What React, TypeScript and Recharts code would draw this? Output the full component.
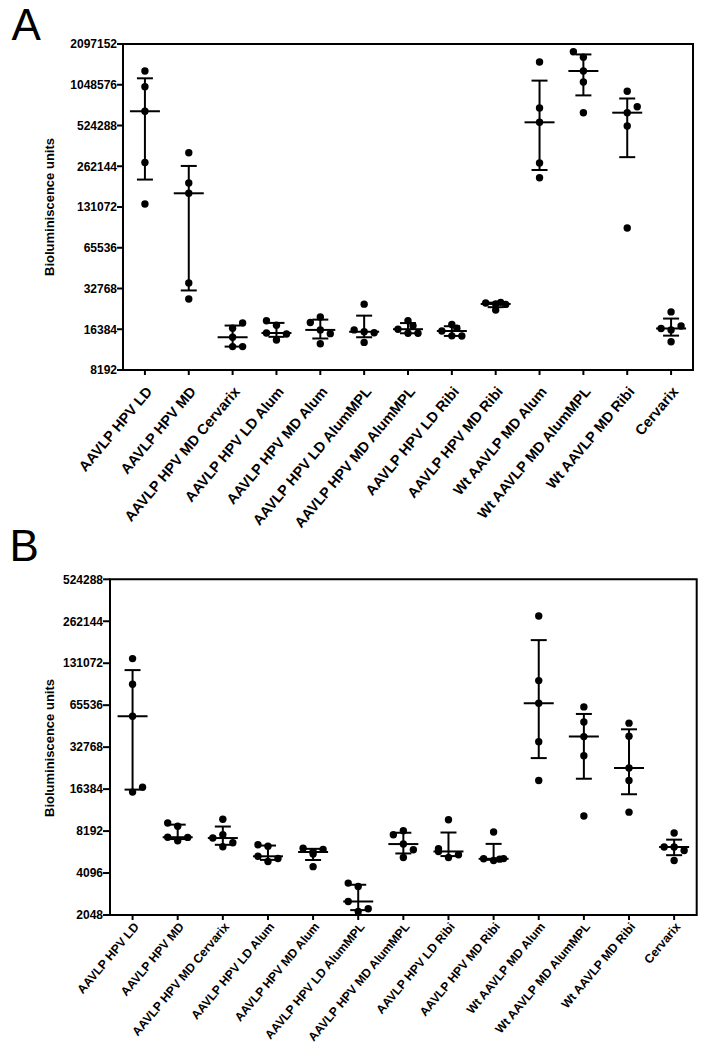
import React from 'react';
import { ScatterChart, Scatter, XAxis, YAxis, ErrorBar, ReferenceArea } from 'recharts';

const categories = [
  'AAVLP HPV LD',
  'AAVLP HPV MD',
  'AAVLP HPV MD Cervarix',
  'AAVLP HPV LD Alum',
  'AAVLP HPV MD Alum',
  'AAVLP HPV LD AlumMPL',
  'AAVLP HPV MD AlumMPL',
  'AAVLP HPV LD Ribi',
  'AAVLP HPV MD Ribi',
  'Wt AAVLP MD Alum',
  'Wt AAVLP MD AlumMPL',
  'Wt AAVLP MD Ribi',
  'Cervarix',
];

// ---------- Panel A ----------
const ticksA = [8192, 16384, 32768, 65536, 131072, 262144, 524288, 1048576, 2097152];
const valuesA = [
  [1325000, 1014000, 668000, 280000, 138000],
  [330000, 197000, 165500, 36000, 27400],
  [18200, 16700, 14300, 12200, 12200],
  [18950, 17550, 15370, 15100, 13650],
  [20200, 18400, 16200, 15200, 12800],
  [25100, 16200, 15700, 15450, 13100],
  [18950, 17400, 16400, 15300, 15300],
  [17800, 16700, 15900, 14650, 14600],
  [25900, 25600, 25200, 25000, 22700],
  [1544000, 706000, 553500, 277000, 215700],
  [1840000, 1673000, 1325000, 1098000, 652000],
  [938000, 722000, 652000, 520000, 91700],
  [22000, 17300, 16600, 16200, 13250],
];
const slotsA = [
  [0, 0, 0, 0, 0],
  [0, 0, 0, 0, 0],
  [1, 0, 0, 0, 1],
  [-1, 0, -1, 1, 0],
  [0, -1, 0, 1, 0],
  [0, -1, 0, 1, 0],
  [0, 0.5, -1, 0, 1],
  [0, 0.5, -1, 0, 1],
  [0.5, -1, 0, 1, 0],
  [0, 0, 0, 0, 0],
  [-1, 0, 0, 0, 0],
  [0, 1, 0, 0, 0],
  [0, 1, -1, 0, 0],
];
const medianA = [668000, 165500, 14300, 15370, 16200, 15700, 16400, 15900, 25200, 553500, 1325000, 652000, 16600];
const q1A = [209000, 31700, 12200, 14400, 14000, 14300, 15300, 14625, 23850, 246000, 875000, 306000, 14700];
const q3A = [1170000, 263500, 17450, 18250, 19300, 20650, 18200, 17250, 25750, 1125000, 1756000, 830000, 19650];

// ---------- Panel B ----------
const ticksB = [2048, 4096, 8192, 16384, 32768, 65536, 131072, 262144, 524288];
const valuesB = [
  [141500, 92700, 54600, 16900, 15600],
  [9350, 8870, 7400, 7380, 6980],
  [9950, 7700, 7300, 6750, 6320],
  [6540, 6370, 5400, 5210, 4960],
  [6170, 6050, 5800, 5600, 4550],
  [3470, 3280, 2560, 2270, 2170],
  [8230, 7700, 6610, 6020, 5300],
  [9870, 6120, 5850, 5540, 5300],
  [8060, 5200, 5180, 5150, 5040],
  [286000, 98400, 67700, 35800, 18900],
  [63700, 49700, 39000, 28400, 10500],
  [48700, 39300, 23200, 18900, 11200],
  [7930, 6290, 6290, 5950, 5040],
];
const slotsB = [
  [0, 0, 0, 1, 0],
  [-1, 0, -1, 1, 0],
  [0, 0, -1, 1, 0],
  [-1, 0, -1, 1, 0],
  [-1, 1, 0, 0, 0],
  [-1, 0, -1, 1, 0],
  [0, -1, 0, 1, 0],
  [0, -1, -1, 1, 0],
  [0, 1, -1, 0.6, 0],
  [0, 0, 0, 0, 0],
  [0, 0, 0, 0, 0],
  [0, 0, 0, 0, 0],
  [0, -1, 0, 1, 0],
];
const medianB = [54600, 7400, 7300, 5400, 5800, 2560, 6610, 5850, 5180, 67700, 39000, 23200, 6290];
const q1B = [16250, 7180, 6530, 5090, 5080, 2220, 5660, 5420, 5095, 27350, 19450, 15050, 5500];
const q3B = [117000, 9110, 8830, 6450, 6110, 3375, 7970, 8000, 6630, 192000, 56700, 44000, 7110];

const FONT = "'Liberation Sans', Arial, Helvetica, sans-serif";
const SLOT_PX = 10;

function buildDots(values: number[][], slots: number[][]) {
  return values.flatMap((g, i) => g.map((v, j) => ({ x: i, y: v, slot: slots[i][j] })));
}
function buildStats(median: number[], q1: number[], q3: number[]) {
  return median.map((m, i) => ({ x: i, y: m, err: [m - q1[i], q3[i] - m] }));
}

const Dot = (props: any) => {
  const { cx, cy, payload } = props;
  if (cx == null || cy == null) return null;
  return <circle cx={cx + (payload.slot || 0) * SLOT_PX} cy={cy} r={3.7} fill="#000" />;
};

const MedianLine = (props: any) => {
  const { cx, cy } = props;
  if (cx == null || cy == null) return null;
  return <line x1={cx - 15} x2={cx + 15} y1={cy} y2={cy} stroke="#000" strokeWidth={2} />;
};

const makeXTick = (angle: number, size: number, dx: number, dy: number) => (props: any) => {
  const { x, y, payload } = props;
  return (
    <g transform={`translate(${x + dx},${y + dy})`}>
      <text
        x={0}
        y={0}
        textAnchor="end"
        transform={`rotate(${angle})`}
        fontFamily={FONT}
        fontWeight="bold"
        fontSize={size}
        fill="#000"
      >
        {categories[payload.value]}
      </text>
    </g>
  );
};

const XTickA = makeXTick(-50, 14.5, 8, 17);
const XTickB = makeXTick(-50, 12.2, 7, 7);

const idx = categories.map((_, i) => i);

type PanelProps = {
  width: number;
  height: number;
  margin: { top: number; right: number; bottom: number; left: number };
  yWidth: number;
  xHeight: number;
  ticks: number[];
  values: number[][];
  slots: number[][];
  median: number[];
  q1: number[];
  q3: number[];
  tickSize: number;
  xTick: any;
};

function Panel(p: PanelProps) {
  const dots = buildDots(p.values, p.slots);
  const stats = buildStats(p.median, p.q1, p.q3);
  const yMin = p.ticks[0];
  const yMax = p.ticks[p.ticks.length - 1];
  const XT = p.xTick;
  return (
    <ScatterChart width={p.width} height={p.height} margin={p.margin}>
      <XAxis
        type="number"
        dataKey="x"
        domain={[-0.5, 12.5]}
        ticks={idx}
        interval={0}
        allowDataOverflow
        height={p.xHeight}
        tick={<XT />}
        tickSize={5}
        tickMargin={0}
        axisLine={{ stroke: '#000', strokeWidth: 2 }}
        tickLine={{ stroke: '#000', strokeWidth: 2 }}
      />
      <YAxis
        type="number"
        dataKey="y"
        scale="log"
        domain={[yMin, yMax]}
        ticks={p.ticks}
        interval={0}
        allowDataOverflow
        width={p.yWidth}
        tickSize={p.tickSize}
        tickMargin={0}
        tick={{ fontFamily: FONT, fontWeight: 'bold', fontSize: 12, fill: '#000' }}
        axisLine={{ stroke: '#000', strokeWidth: 2 }}
        tickLine={{ stroke: '#000', strokeWidth: 2 }}
      />
      <ReferenceArea
        x1={-0.5}
        x2={12.5}
        y1={yMin}
        y2={yMax}
        fill="none"
        fillOpacity={0}
        stroke="#000"
        strokeWidth={2}
        ifOverflow="visible"
      />
      <Scatter data={dots} dataKey="y" shape={<Dot />} isAnimationActive={false} />
      <Scatter data={stats} dataKey="y" shape={<MedianLine />} isAnimationActive={false}>
        <ErrorBar dataKey="err" direction="y" width={8} stroke="#000" strokeWidth={2} />
      </Scatter>
    </ScatterChart>
  );
}

export default function App() {
  return (
    <div style={{ position: 'absolute', left: 0, top: 0, width: 704, height: 1049, background: '#fff', overflow: 'hidden' }}>
      <div style={{ position: 'absolute', left: 0, top: 0 }}>
        <Panel
          width={704}
          height={560}
          margin={{ top: 44, right: 11, bottom: 0, left: 0 }}
          yWidth={123}
          xHeight={190}
          ticks={ticksA}
          values={valuesA}
          slots={slotsA}
          median={medianA}
          q1={q1A}
          q3={q3A}
          tickSize={6}
          xTick={XTickA}
        />
      </div>
      <div style={{ position: 'absolute', left: 0, top: 540 }}>
        <Panel
          width={704}
          height={509}
          margin={{ top: 39.3, right: 7.3, bottom: 0, left: 0 }}
          yWidth={110}
          xHeight={134}
          ticks={ticksB}
          values={valuesB}
          slots={slotsB}
          median={medianB}
          q1={q1B}
          q3={q3B}
          tickSize={7}
          xTick={XTickB}
        />
      </div>
      <svg
        width={704}
        height={1049}
        style={{ position: 'absolute', left: 0, top: 0, pointerEvents: 'none' }}
      >
        <text x={11.5} y={40} fontFamily={FONT} fontSize={44} fill="#000">A</text>
        <text x={9.5} y={561} fontFamily={FONT} fontSize={44} fill="#000">B</text>
        <text
          transform="translate(54.3,207) rotate(-90)"
          textAnchor="middle"
          fontFamily={FONT}
          fontWeight="bold"
          fontSize={13}
          fill="#000"
        >
          Bioluminiscence units
        </text>
        <text
          transform="translate(54.3,748) rotate(-90)"
          textAnchor="middle"
          fontFamily={FONT}
          fontWeight="bold"
          fontSize={13}
          fill="#000"
        >
          Bioluminiscence units
        </text>
      </svg>
    </div>
  );
}
